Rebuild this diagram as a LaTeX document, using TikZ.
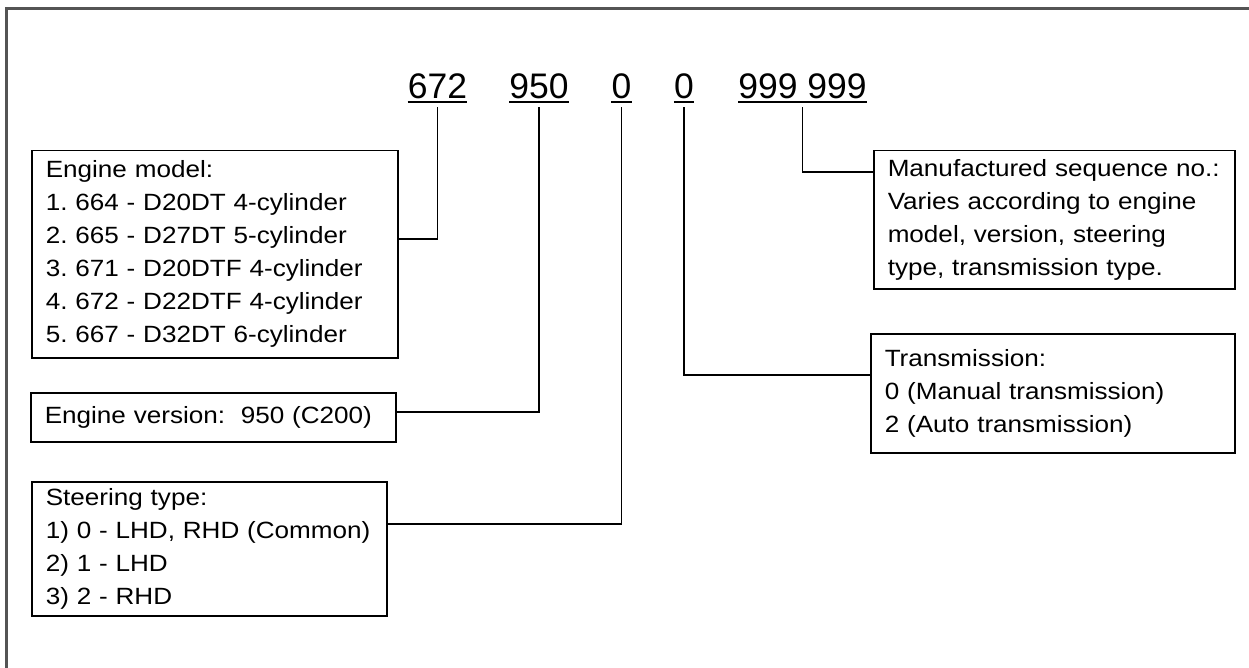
\documentclass[tikz,border=0pt]{standalone}
\usepackage{fontspec}
\setmainfont{Liberation Sans}[FakeStretch=1.11]
\newfontfamily\numfont{Liberation Sans}
\usetikzlibrary{positioning}
\frenchspacing
\hyphenpenalty=10000
\exhyphenpenalty=10000
\newcommand\boxfont{\fontsize{23.5}{33}\selectfont}
\newcommand\digitfont{\numfont\fontsize{35.5}{40}\selectfont}
\tikzset{
  frameln/.style={line width=3pt, black!67},
  infobox/.style={draw, line width=1.5pt, anchor=north west, align=left,
    inner xsep=14pt, inner ysep=0pt, font=\boxfont},
  digits/.style={inner sep=0pt, anchor=base, font=\digitfont},
  underln/.style={line width=2pt},
  link/.style={line width=1.5pt},
}

\begin{document}
\begin{tikzpicture}[x=1pt, y=-1pt]
    \useasboundingbox (0,0) rectangle (1249,668);
    % outer frame (top and left only)
    \draw[frameln] (6,668) |- (1249,8.5);
    % code digits
    \node[digits] (d672) at (437.5,99) {672};
    \node[digits] (d950) at (539,99) {950};
    \node[digits] (dst) at (621.5,99) {0};
    \node[digits] (dtr) at (684,99) {0};
    \node[digits] (dseq) at (802.5,99) {999 999};
    \foreach \n in {d672,d950,dst,dtr,dseq}
      \draw[underln] ([yshift=-3pt]\n.base west) -- ([yshift=-3pt]\n.base east);
    % left boxes
    \node[infobox, text width=338pt, minimum height=207pt] (model) at (31,150)
      {Engine model:\\1. 664 - D20DT 4-cylinder\\2. 665 - D27DT 5-cylinder\\
       3. 671 - D20DTF 4-cylinder\\4. 672 - D22DTF 4-cylinder\\5. 667 - D32DT 6-cylinder};
    \node[infobox, text width=337pt, minimum height=49pt] (version) at (30,392)
      {Engine version:~~950 (C200)};
    \node[infobox, text width=327pt, minimum height=134pt] (steer) at (31,481)
      {Steering type:\\1) 0 - LHD, RHD (Common)\\2) 1 - LHD\\3) 2 - RHD};
    % right boxes
    \node[infobox, text width=333pt, minimum height=138pt] (seqno) at (873,150)
      {Manufactured sequence no.:\\Varies according to engine\\model, version, steering\\
       type, transmission type.};
    \node[infobox, text width=336pt, minimum height=119pt] (trans) at (870,333)
      {Transmission:\\0 (Manual transmission)\\2 (Auto transmission)};
    % connectors up to the digits
    \draw[link] ([yshift=-89pt]model.north east) -| ([yshift=-8pt]d672.base);
    \draw[link] ([yshift=-20pt]version.north east) -| ([yshift=-8pt]d950.base);
    \draw[link] ([yshift=-43pt]steer.north east) -| ([yshift=-8pt]dst.base);
    \draw[link] ([yshift=-42pt]trans.north west) -| ([yshift=-8pt]dtr.base);
    \draw[link] ([yshift=-22pt]seqno.north west) -| ([yshift=-8pt]dseq.base);
\end{tikzpicture}
\end{document}
